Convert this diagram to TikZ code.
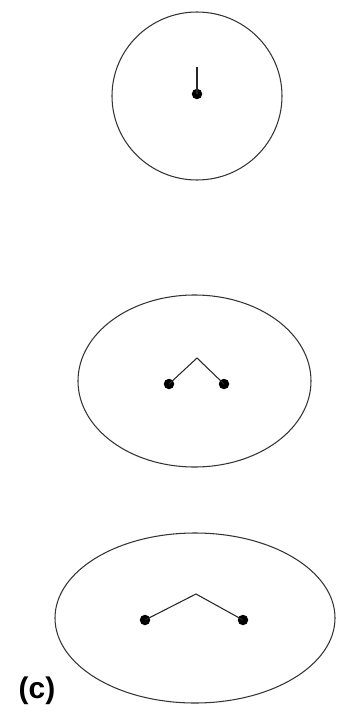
\documentclass[tikz,border=0pt]{standalone}
\usepackage{fontspec}
\setmainfont{Liberation Sans}
\usepackage{tikz}
\usetikzlibrary{positioning}

\begin{document}
\begin{tikzpicture}[
  x=0.02cm, y=-0.02cm,
  shell/.style={draw=black!80, line width=0.6pt},
  atom/.style={circle, fill=black, inner sep=0pt, minimum size=0.21cm},
  bond/.style={draw=black!85, line width=0.6pt},
  partlbl/.style={font=\fontsize{17}{20}\selectfont\bfseries},
]
\useasboundingbox (0,0) rectangle (345,713);

%% ---- top: one centre ----
\draw[shell] (197,96) ellipse [x radius=85, y radius=84];
\node[atom] (a1) at (197,94) {};
\coordinate (t1) at (197,67);
\draw[bond] (a1.center) -- (t1);

%% ---- middle: two centres ----
\draw[shell] (194.5,381) ellipse [x radius=116.5, y radius=86];
\node[atom] (b1) at (169,384) {};
\node[atom] (b2) at (224,384) {};
\coordinate (t2) at (197,358);
\draw[bond] (b1.center) -- (t2) -- (b2.center);

%% ---- bottom: two centres, wider ----
\draw[shell] (195,618) ellipse [x radius=140, y radius=85];
\node[atom] (c1) at (145,620) {};
\node[atom] (c2) at (243,620) {};
\coordinate (t3) at (196,594);
\draw[bond] (c1.center) -- (t3) -- (c2.center);

\node[partlbl] (lbl) at (37,691) {(c)};

\end{tikzpicture}
\end{document}
